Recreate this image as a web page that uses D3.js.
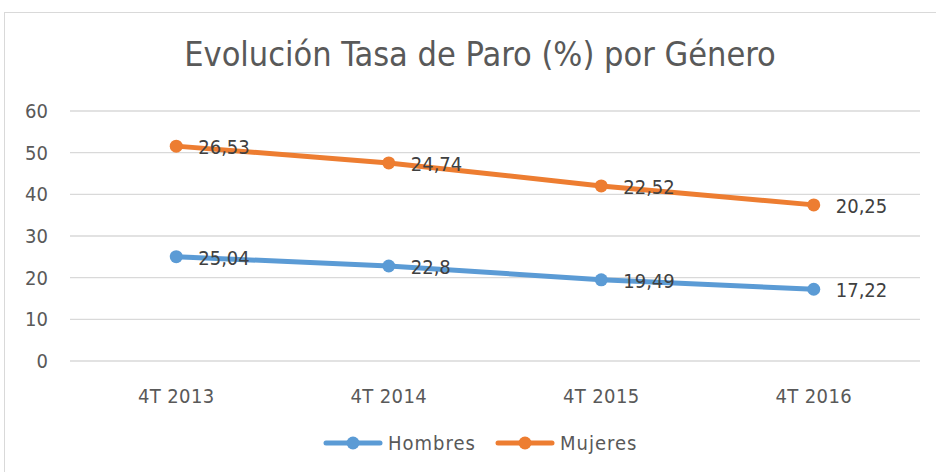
<!DOCTYPE html>
<html>
<head>
  <meta charset="UTF-8" />
  <title>Evolución Tasa de Paro</title>
  <script src="https://d3js.org/d3.v7.min.js"></script>
  <style>
    body { margin: 0; background: #fff; }
    text { font-family: "Liberation Sans Narrow", "DejaVu Sans Condensed", "Open Sans", sans-serif; fill: #595959; }
    .grid line { stroke: #d9d9d9; stroke-width: 1.3; }
    .lbl { fill: #404040; font-size: 20px; }
  </style>
</head>
<body>
<svg id="chart" width="936" height="472"></svg>
<script>
  // datos
  const periodos = ["4T 2013", "4T 2014", "4T 2015", "4T 2016"];
  const hombres = [25.04, 22.8, 19.49, 17.22];
  const mujeres = [26.53, 24.74, 22.52, 20.25];
  const yTicks = [0, 10, 20, 30, 40, 50, 60];

  const series = [
    { name: "Hombres", values: hombres, color: "#5b9bd5" },
    { name: "Mujeres", values: mujeres, color: "#ed7d31" }
  ];
  // apilado: Mujeres se dibuja encima de Hombres
  const stacked = series.map((s, i) => ({
    ...s,
    pos: s.values.map((v, j) => v + (i > 0 ? series.slice(0, i).reduce((a, p) => a + p.values[j], 0) : 0))
  }));

  const svg = d3.select("#chart");

  // marco
  svg.append("rect")
    .attr("x", 4.5).attr("y", 12.5).attr("width", 940).attr("height", 470)
    .attr("fill", "none").attr("stroke", "#d9d9d9");

  svg.append("text")
    .attr("x", 480).attr("y", 66)
    .attr("text-anchor", "middle")
    .style("font-size", "34px")
    .text("Evolución Tasa de Paro (%) por Género");

  const x = d3.scaleBand().domain(periodos).range([70, 920]);
  const y = d3.scaleLinear().domain([0, 60]).range([361, 111]);

  const grid = svg.append("g").attr("class", "grid");
  grid.selectAll("line").data(yTicks).enter().append("line")
    .attr("x1", 70).attr("x2", 920)
    .attr("y1", d => y(d)).attr("y2", d => y(d));

  svg.selectAll(".ytick").data(yTicks).enter().append("text")
    .attr("class", "ytick")
    .attr("x", 48).attr("y", d => y(d) + 7)
    .attr("text-anchor", "end")
    .style("font-size", "20px")
    .text(d => d);

  svg.selectAll(".xtick").data(periodos).enter().append("text")
    .attr("class", "xtick")
    .attr("x", d => x(d) + x.bandwidth() / 2).attr("y", 403)
    .attr("text-anchor", "middle")
    .style("font-size", "20px")
    .style("letter-spacing", "0.4px")
    .text(d => d);

  const line = d3.line()
    .x((d, i) => x(periodos[i]) + x.bandwidth() / 2)
    .y(d => y(d));

  stacked.forEach(s => {
    svg.append("path")
      .datum(s.pos)
      .attr("d", line)
      .attr("fill", "none")
      .attr("stroke", s.color)
      .attr("stroke-width", 5)
      .attr("stroke-linejoin", "round")
      .attr("stroke-linecap", "round");

    svg.selectAll(null).data(s.pos).enter().append("circle")
      .attr("cx", (d, i) => x(periodos[i]) + x.bandwidth() / 2)
      .attr("cy", d => y(d))
      .attr("r", 6.5)
      .attr("fill", s.color);

    svg.selectAll(null).data(s.pos).enter().append("text")
      .attr("class", "lbl")
      .attr("x", (d, i) => x(periodos[i]) + x.bandwidth() / 2 + 22)
      .attr("y", d => y(d) + 8)
      .text((d, i) => String(s.values[i]).replace(".", ","));
  });

  // leyenda
  const legX = [326, 498];
  series.forEach((s, i) => {
    const g = svg.append("g").attr("transform", `translate(${legX[i]},443)`);
    g.append("line").attr("x1", 0).attr("x2", 54)
      .attr("stroke", s.color).attr("stroke-width", 5).attr("stroke-linecap", "round");
    g.append("circle").attr("cx", 27).attr("r", 6.5).attr("fill", s.color);
    g.append("text").attr("x", 62).attr("y", 7)
      .style("font-size", "20px").style("letter-spacing", "1px")
      .text(s.name);
  });
</script>
</body>
</html>
